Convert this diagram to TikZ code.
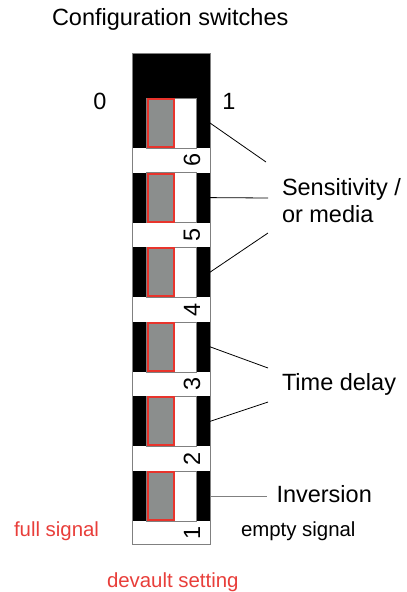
\documentclass[tikz,border=0pt]{standalone}
\usepackage{fontspec}
\setmainfont{Liberation Sans}
\definecolor{swred}{RGB}{232,52,44}
\definecolor{swgray}{RGB}{139,142,141}
\definecolor{txtred}{RGB}{232,62,58}
\begin{document}
\begin{tikzpicture}[x=1pt, y=-1pt, font=\fontsize{23.5}{28}\selectfont, every node/.style={inner sep=0pt, outer sep=0pt}, body/.style={fill=black, minimum width=78pt, minimum height=50pt}, window/.style={draw=gray, line width=0.6pt, fill=white, minimum width=50pt, minimum height=50pt}, slider/.style={draw=swred, line width=2pt, fill=swgray, minimum width=26pt, minimum height=48pt}, num/.style={rotate=90}, lead/.style={line width=0.8pt}, small/.style={font=\fontsize{20.4}{24}\selectfont}]
	\useasboundingbox (0,0) rectangle (407,592);
	
	% Titel
	\node[anchor=base west] (title) at (52, 25) {Configuration switches};
	\node[anchor=base] (off) at (100, 109) {0};
	\node[anchor=base] (on) at (229, 109) {1};
	
	% Kopf
	\node[body, minimum height=45pt] (head) at (171, 75.5) {};
	
	% Schalter 6
	\node[body] (sw6) at (171, 123) {};
	\node[window] (win6) at (171, 123) {};
	\node[slider] (sl6) at (161, 123) {};
	\node[num] (n6) at (192, 160.3) {6};
	
	% Schalter 5
	\node[body] (sw5) at (171, 197.6) {};
	\node[window] (win5) at (171, 197.6) {};
	\node[slider] (sl5) at (161, 197.6) {};
	\node[num] (n5) at (192, 234.9) {5};
	
	% Schalter 4
	\node[body] (sw4) at (171, 272.2) {};
	\node[window] (win4) at (171, 272.2) {};
	\node[slider] (sl4) at (161, 272.2) {};
	\node[num] (n4) at (192, 309.5) {4};
	
	% Schalter 3
	\node[body] (sw3) at (171, 346.8) {};
	\node[window] (win3) at (171, 346.8) {};
	\node[slider] (sl3) at (161, 346.8) {};
	\node[num] (n3) at (192, 384.1) {3};
	
	% Schalter 2
	\node[body] (sw2) at (171, 421.4) {};
	\node[window] (win2) at (171, 421.4) {};
	\node[slider] (sl2) at (161, 421.4) {};
	\node[num] (n2) at (192, 458.7) {2};
	
	% Schalter 1
	\node[body] (sw1) at (171, 496) {};
	\node[window] (win1) at (171, 496) {};
	\node[slider] (sl1) at (161, 496) {};
	\node[num] (n1) at (192, 533.3) {1};
	
	% Rahmen
	\node[draw=gray, line width=0.8pt, minimum width=78pt, minimum height=491pt] (frame) at (171, 298.5) {};
	
	% Beschriftung
	\node[anchor=base west] (sens) at (282, 195) {Sensitivity /};
	\node[anchor=base west] (media) at (282, 222.7) {or media};
	\node[anchor=base west] (delay) at (282, 390.7) {Time delay};
	\node[anchor=base west] (inv) at (276.5, 502) {Inversion};
	\node[small, anchor=base west] (empty) at (241, 536) {empty signal};
	\node[small, anchor=base west, text=txtred] (full) at (14, 536.5) {full signal};
	\node[small, anchor=base west, text=txtred] (default) at (107, 587) {devault setting};
	
	% Linien
	\coordinate (e6) at (266, 162);
	\coordinate (e5) at (268, 198);
	\coordinate (e4) at (268, 233);
	\coordinate (e3) at (268, 368);
	\coordinate (e2) at (268, 402);
	\coordinate (e1) at (267, 496);
	\draw[lead] (sw6.east) -- (e6);
	\draw[lead] (sw5.east) -- (e5);
	\draw[lead] (sw4.east) -- (e4);
	\draw[lead] (sw3.east) -- (e3);
	\draw[lead] (sw2.east) -- (e2);
	\draw[lead, gray] (sw1.east) -- (e1);
	
\end{tikzpicture}
\end{document}
